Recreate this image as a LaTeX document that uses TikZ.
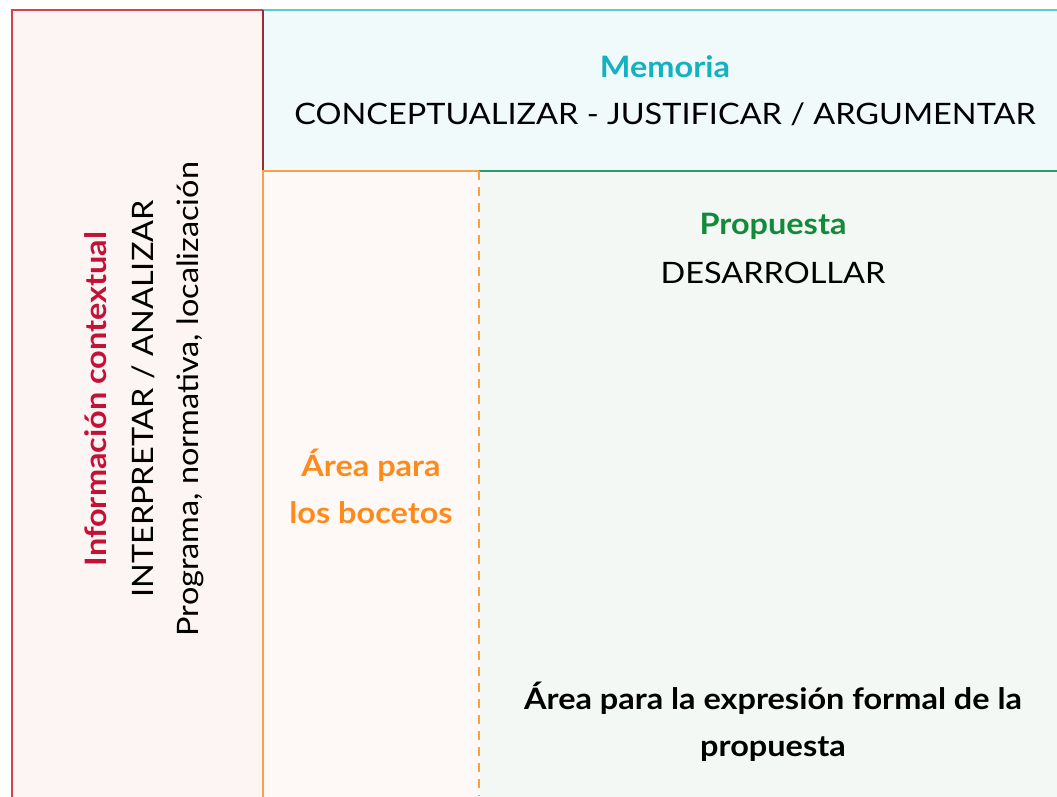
\documentclass[tikz,border=0pt]{standalone}
\usepackage{fontspec}
\setmainfont{Lato}[FakeStretch=1.1]
\definecolor{redline}{HTML}{D9404F}
\definecolor{redfill}{HTML}{FDF4F4}
\definecolor{redtxt}{HTML}{C41236}
\definecolor{tealline}{HTML}{5FC9D4}
\definecolor{tealfill}{HTML}{F0FAFB}
\definecolor{tealtxt}{HTML}{14B1C1}
\definecolor{orline}{HTML}{F7A24A}
\definecolor{orfill}{HTML}{FEF9F6}
\definecolor{ortxt}{HTML}{FF8A1C}
\definecolor{grline}{HTML}{2E9C6E}
\definecolor{grfill}{HTML}{F3F8F5}
\definecolor{grtxt}{HTML}{138A3A}
\tikzset{
  x=1pt, y=-1pt,
  txt/.style={font=\fontsize{29.5}{47}\selectfont, text=black, inner sep=0pt},
  btxt/.style={txt, font=\fontsize{29.5}{47}\selectfont\bfseries},
  vtxt/.style={txt, rotate=90, anchor=center}
}
\begin{document}
\begin{tikzpicture}
\useasboundingbox (0,0) rectangle (1057,796);
\begin{scope}
\clip (0,0) rectangle (1057,796);
% left panel
\filldraw[fill=redfill, draw=redline, line width=1.2pt] (12,10) rectangle (263,810);
% top panel
\filldraw[fill=tealfill, draw=none] (263,10) rectangle (1070,171);
\draw[tealline, line width=1.2pt] (263,10) -- (1070,10);
\draw[grline, line width=1.2pt] (479,171) -- (1070,171);
\draw[redline!70!black, line width=1.2pt] (263,10) -- (263,171);
% sketch area
\filldraw[fill=orfill, draw=none] (263,171) rectangle (479,810);
\draw[orline, line width=1.2pt] (263,810) -- (263,171) -- (479,171);
% proposal area
\filldraw[fill=grfill, draw=none] (480,172) rectangle (1070,810);
\draw[orline, line width=2pt, dash pattern=on 9pt off 7pt] (479,171) -- (479,796);
\end{scope}

\node[btxt, text=tealtxt] (mem) at (665,67) {Memoria};
\node[txt] (memsub) at (665,114) {CONCEPTUALIZAR - JUSTIFICAR / ARGUMENTAR};
\node[btxt, text=grtxt] (prop) at (773,226) {Propuesta};
\node[txt] (propsub) at (773,273) {DESARROLLAR};
\node[btxt, text=ortxt, align=center] (boc) at (371,486) {Área para\\los bocetos};
\node[btxt, align=center] (expr) at (773,722) {Área para la expresión formal de la\\propuesta};
\node[vtxt, font=\fontsize{29.5}{47}\selectfont\bfseries, text=redtxt] (info) at (96,399) {Información contextual};
\node[vtxt] (interp) at (143,399) {INTERPRETAR / ANALIZAR};
\node[vtxt] (prog) at (190,399) {Programa, normativa, localización};
\end{tikzpicture}
\end{document}
